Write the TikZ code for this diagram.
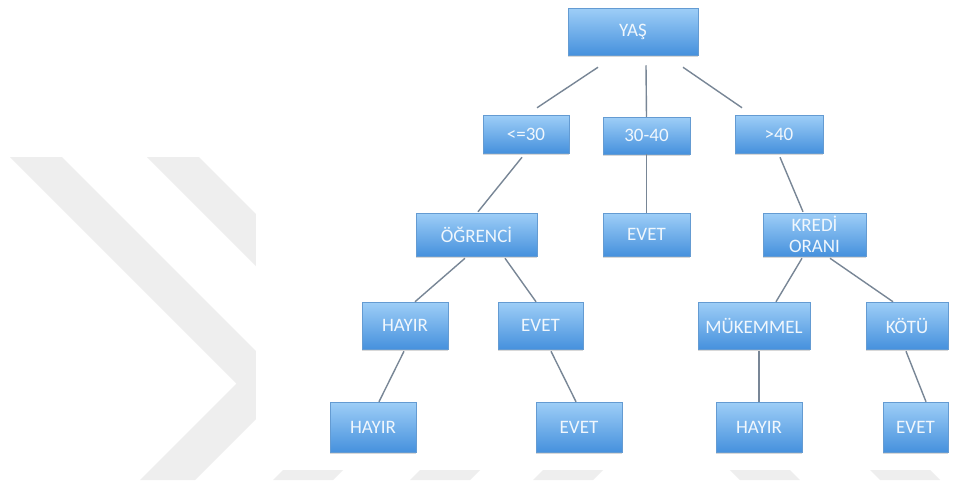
\documentclass[tikz,border=0pt]{standalone}
\usepackage{fontspec}
\setmainfont{Carlito}
\usetikzlibrary{shadows}
\definecolor{wm}{RGB}{238,238,238}
\definecolor{btop}{RGB}{158,206,247}
\definecolor{bbot}{RGB}{70,145,221}
\definecolor{bline}{RGB}{100,155,210}
\definecolor{connc}{RGB}{120,134,150}
\definecolor{txt}{RGB}{240,247,253}
\begin{document}
\begin{tikzpicture}[x=1pt,y=-1pt,
  box/.style={rectangle, top color=btop, bottom color=bbot, draw=bline,
    line width=0.5pt, text=txt, font=\fontsize{19}{21}\selectfont,
    inner sep=0pt, align=center,
    drop shadow={opacity=0.3, shadow xshift=0pt, shadow yshift=-2pt}},
  conn/.style={draw=connc, line width=1.4pt},
  wmark/.style={fill=wm, draw=none}]
\useasboundingbox (0,0) rectangle (962,480);
\fill[white] (0,0) rectangle (962,480);
% watermark chevrons
\path[wmark] (10,157) -- (62,157) -- (290,385) -- (195,480) -- (140,480) -- (236.5,383.5) -- cycle;
\path[wmark] (147,157) -- (199,157) -- (427.5,385.5) -- (333,480) -- (273,480) -- (371.5,381.5) -- cycle;
\path[wmark] (410,480) -- (470,480) -- (520,430) -- (460,430) -- cycle;
\path[wmark] (533,480) -- (593,480) -- (643,430) -- (583,430) -- cycle;
\path[wmark] (740,480) -- (800,480) -- (750,430) -- (690,430) -- cycle;
\path[wmark] (880,480) -- (940,480) -- (890,430) -- (830,430) -- cycle;
\fill[white] (256,0) rectangle (962,470);
% nodes
\node[box, minimum width=130pt, minimum height=47pt] (yas) at (633,31.5) {YAŞ};
\node[box, minimum width=86pt, minimum height=38pt] (lt) at (526,134) {<=30};
\node[box, minimum width=87pt, minimum height=37pt] (mid) at (646.5,135.5) {30-40};
\node[box, minimum width=88pt, minimum height=38pt] (gt) at (779,134) {>40};
\node[box, minimum width=121pt, minimum height=43pt] (ogr) at (476.5,234.5) {ÖĞRENCİ};
\node[box, minimum width=87pt, minimum height=43pt] (evA) at (646.5,234.5) {EVET};
\node[box, minimum width=103pt, minimum height=43pt] (kredi) at (814.5,234.5) {KREDİ\\ORANI};
\node[box, minimum width=86pt, minimum height=47pt] (hayA) at (405,325.5) {HAYIR};
\node[box, minimum width=85pt, minimum height=47pt] (evB) at (540.5,325.5) {EVET};
\node[box, minimum width=112pt, minimum height=47pt] (muk) at (754,325.5) {MÜKEMMEL};
\node[box, minimum width=82pt, minimum height=47pt] (kotu) at (907,325.5) {KÖTÜ};
\node[box, minimum width=86pt, minimum height=50pt] (hayB) at (373,427) {HAYIR};
\node[box, minimum width=86pt, minimum height=50pt] (evC) at (579,427) {EVET};
\node[box, minimum width=86pt, minimum height=50pt] (hayC) at (759,427) {HAYIR};
\node[box, minimum width=65pt, minimum height=50pt] (evD) at (915.5,427) {EVET};
% connectors
\draw[conn] ([shift={(-35,12)}]yas.south) -- ([shift={(11,-7)}]lt.north);
\draw[conn] ([shift={(13,10)}]yas.south) -- (mid.north);
\draw[conn] ([shift={(50,12)}]yas.south) -- ([shift={(-37,-7)}]gt.north);
\draw[conn] ([shift={(-4,4)}]lt.south) -- ([shift={(1.5,-1)}]ogr.north);
\draw[conn] (mid.south) -- (evA.north);
\draw[conn] ([shift={(1,4)}]gt.south) -- ([shift={(-11.5,-1)}]kredi.north);
\draw[conn] ([shift={(-11.5,2)}]ogr.south) -- ([shift={(10,0)}]hayA.north);
\draw[conn] ([shift={(28.5,2)}]ogr.south) -- ([shift={(-4.5,0)}]evB.north);
\draw[conn] ([shift={(-12.5,2)}]kredi.south) -- ([shift={(22,0)}]muk.north);
\draw[conn] ([shift={(15.5,2)}]kredi.south) -- ([shift={(-14,0)}]kotu.north);
\draw[conn] ([shift={(-1,2)}]hayA.south) -- ([shift={(6,0)}]hayB.north);
\draw[conn] ([shift={(10.5,2)}]evB.south) -- ([shift={(-3,0)}]evC.north);
\draw[conn] ([shift={(5,2)}]muk.south) -- (hayC.north);
\draw[conn] ([shift={(-1,2)}]kotu.south) -- ([shift={(10.5,0)}]evD.north);
\end{tikzpicture}
\end{document}
